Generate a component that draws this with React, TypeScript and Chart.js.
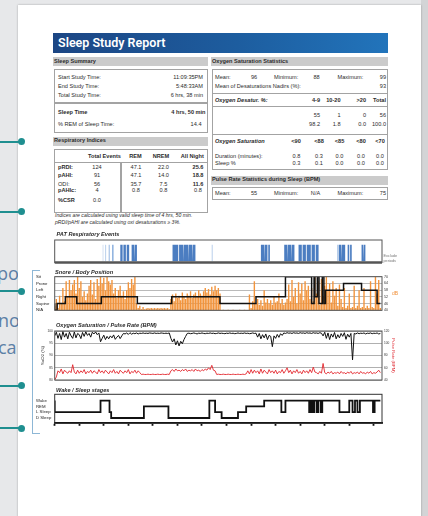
import React, { useEffect, useRef } from "react";
import { Chart, registerables } from "chart.js";

const FONT = '"Liberation Sans", Arial, sans-serif';

// ---------- time axis (minutes from study start) ----------
const studyMaxMin = 400;
const timeTicks = [0, 30, 60, 90, 120, 150, 180, 210, 240, 270, 300, 330, 360, 390];

// ---------- PAT respiratory events (minutes) ----------
const patDarkStart = [80, 84, 88, 94, 98, 144, 152, 158, 164, 169, 252, 257, 261, 280.5, 285, 290, 298, 303, 308, 314, 319, 347, 351, 358, 361, 375, 378];
const patDarkEnd = [83, 87, 91, 97, 100.5, 151, 157, 163, 168, 172, 256, 260, 263, 284, 289, 293, 302, 307, 313, 318, 322.5, 350, 355, 360, 363, 377, 380];
const patLightStart = [58.5, 62, 66, 70, 184, 192, 228, 345];
const patLightEnd = [59.3, 62.8, 67.2, 72, 184.8, 192.8, 228.8, 346];

// ---------- body position ----------
const positionLabels = ["N/A", "Supine", "Right", "Left", "Prone", "Sit"];
const positionTimes = [0, 3, 13, 27, 57, 101, 143, 202, 246, 282, 314, 317, 318, 321, 323, 327, 329, 331, 353, 375, 394, 398];
const positionValues = [1, 0, 1, 2, 1, 2, 1, 2, 1, 2, 5, 1, 5, 2, 5, 1, 5, 1, 3, 4, 3, 1];

// ---------- snore (dB), one value every 2 minutes ----------
const snoreStepMin = 2;
const snoreDb = [
  44, 50, 42, 53, 46,
  60, 48, 66, 52, 67, 58,
  63, 67, 55, 70, 60, 66,
  52, 57, 49, 55,
  62, 67, 54, 65, 50,
  68, 62, 70, 64, 69, 58, 70, 66, 63, 67,
  55, 60, 51, 58, 62, 53, 57, 50,
  58, 65, 60, 68, 63, 70,
  46, 42, 44, 41, 43, 41,
  41.5, 42, 41.5, 42, 41.5, 42, 41.5, 42, 41.5, 42, 41.5, 42, 41.5, 42, 41,
  50, 54, 48, 55, 51, 53, 49, 56, 52, 50, 55, 53, 57, 51, 54, 56, 52, 58, 55, 53, 57, 60, 56, 59, 54, 61, 57, 62, 58, 60, 55,
  40, 40.5, 40, 40, 40.5, 40, 40, 40.5, 40, 40, 40, 40.5, 40, 40, 40.5, 40, 40, 54, 42,
  48, 66, 46, 50, 45, 49, 44, 58, 47, 50, 46, 49, 45, 52, 47, 48, 55, 46, 50, 45, 47,
  50, 63, 48, 67, 52, 60, 46, 65, 55, 64, 49, 66, 58, 62, 50,
  60, 48, 70, 55, 66, 45, 68, 52, 62, 70, 58, 64, 47, 66, 53, 60, 44, 63, 50,
  43, 60, 42, 44, 55, 42, 43, 62, 42, 44, 58, 42, 43, 60, 42, 44, 42, 66, 43, 42, 70, 55, 67, 42,
];
const snoreTicksStep = 6;

// ---------- SpO2 (%) and pulse (BPM), one value every 2 minutes ----------
const oxiStepMin = 2;
const spo2Values = [
  98, 99.5, 97, 99, 96.5, 99.8, 97.5, 99, 96.8, 99.5, 98, 97, 99.6, 97.2, 99, 98.5, 96.9, 99.4, 97.8, 99.7, 98.2, 99, 97.5, 99.5, 98.8, 99.6, 98.5, 99.2, 95.6,
  97, 98.3, 96.5, 97.8, 96.8, 98, 97.2, 98.4, 96.6, 97.5, 98.2, 96.9, 98,
  99, 98.8, 99.2, 98.6, 99.3, 98.7, 99.1, 98.9, 99.2, 98.8, 99.1, 99, 99.2, 99, 99.1, 99, 99.2, 99.1, 99, 99.2, 99, 99.1, 99, 99.2, 99.1, 99, 99.1, 99, 99.2,
  97, 95.5, 96.8, 94.3, 96, 93.9, 95.8, 94.8, 96.5, 97.8,
  99, 99.1, 98.9, 99, 99.2, 99, 98.8, 99.1, 99, 99.2, 99, 98.9, 99.1, 99, 99.2, 99, 99.1, 98.9, 99, 99.2, 99, 99.1, 99, 98.9, 99.1, 99, 99.2, 99, 99.1, 98.9, 99, 99.2, 99, 99.1, 99, 99.2, 99, 99.1, 98.9, 99, 99.2, 99, 99.1,
  97.5, 99, 96.8, 98.5, 97.2, 98.8, 96.5, 98.2, 97.8, 93.6, 98, 97, 98.6, 97.4, 98.9, 98.2,
  99.2, 99, 99.3, 99.1, 99.2, 99, 99.3, 99.1, 99.2, 99, 99.3, 99.1, 99.2, 99, 99.3, 99.1, 99.2, 99, 99.3, 99.1, 99.2, 99, 99.3, 99.1,
  98, 99.5, 97, 99.2, 96.5, 98.8, 97.5, 99.4, 96.8, 98.5, 97.2, 99, 97.8, 99.3, 96.6, 98.7, 97.5, 99,
  88.2,
  99, 98.8, 99.2, 98.9, 99.1, 99, 99.2, 98.8, 99.1, 99, 99.2, 98.9, 99.1, 99, 99.2, 98.8, 99,
];
const pulseValues = [
  40, 45, 55,
  52, 58, 50, 56, 53,
  51, 55, 52, 65,
  53, 50, 56, 51, 55, 52, 57, 50, 54, 52, 56, 51, 55, 53, 50, 57, 52, 55, 51, 56, 53, 50, 55, 52, 57, 51, 54, 50, 56, 53, 51, 55, 52, 57, 50, 54, 52, 56, 51, 55, 52,
  49, 49.5, 49, 49, 49.5, 49, 49, 49.5, 49, 49, 49.5, 49, 49, 49.5, 49, 49, 49.5, 49,
  55, 57, 54, 58, 55, 56, 54, 57, 55, 58, 54, 56, 55, 57, 54, 58, 55, 56, 54, 57, 55, 58, 56, 60, 57, 64, 56, 55,
  49, 49.5, 49, 49, 49.5, 49, 49, 49.5, 49, 49, 49.5, 49, 49, 49.5, 49, 49, 49.5, 49, 50,
  55, 50, 57, 51, 56, 52, 55, 50, 58, 51, 56, 53, 50, 57, 52, 55, 51, 56, 50, 54, 52, 57, 51, 55, 60, 52, 56, 50, 55, 52, 57, 51, 54, 50, 56, 52, 55, 51, 57, 52, 61, 53,
  52, 50, 54, 51, 67, 52, 50, 53, 51, 54, 50, 52, 51, 53, 50, 54, 51, 52, 50, 53, 51, 54, 50, 52, 51, 53, 50, 54, 51, 52, 50, 53, 51, 54, 50, 52, 51, 53, 56, 52,
];
const spo2Range = [80, 100];
const spo2Step = 5;
const pulseRange = [40, 120];
const pulseStep = 20;

// ---------- sleep stages ----------
const stageLabels = ["D Sleep", "L Sleep", "REM", "Wake"];
const stageTimes = [0, 56, 67, 69, 109, 139, 189, 196, 204, 224, 234, 256, 277, 282, 311, 313, 315, 317, 320, 322, 325, 327, 348, 360, 364, 367, 370, 373, 389, 391, 393, 398];
const stageValues = [3, 1, 3, 1, 0, 2, 0, 3, 1, 0, 1, 2, 3, 1, 3, 1, 3, 1, 3, 1, 3, 1, 3, 1, 3, 1, 3, 1, 3, 1, 3, 3];

// ---------- chart plumbing ----------
const framePlugin = {
  id: "frame",
  afterDatasetsDraw(chart: any, _args: any, opts: any) {
    if (!opts || !opts.color) return;
    const { ctx, chartArea: a } = chart;
    ctx.save();
    ctx.strokeStyle = opts.color;
    ctx.lineWidth = opts.width || 1;
    ctx.strokeRect(a.left, a.top, a.right - a.left, a.bottom - a.top);
    if (opts.bottomWidth) {
      ctx.lineWidth = opts.bottomWidth;
      ctx.beginPath();
      ctx.moveTo(a.left, a.bottom);
      ctx.lineTo(a.right, a.bottom);
      ctx.stroke();
    }
    ctx.restore();
  },
};
Chart.register(...registerables, framePlugin);

const eventPoints = (starts: number[], ends: number[]) =>
  starts.flatMap((s, k) => [
    { x: s, y: 0 },
    { x: s, y: 1 },
    { x: ends[k], y: 1 },
    { x: ends[k], y: 0 },
  ]);

const baseOptions = (padding: any) => ({
  animation: false,
  responsive: false,
  devicePixelRatio: 1,
  layout: { padding, autoPadding: false },
  elements: { point: { radius: 0 }, line: { tension: 0 } },
  plugins: { legend: { display: false }, tooltip: { enabled: false } },
});

function ChartBox({ left, top, width, height, config }: any) {
  const ref = useRef<HTMLCanvasElement>(null);
  useEffect(() => {
    const chart = new Chart(ref.current as HTMLCanvasElement, config());
    return () => chart.destroy();
  }, []);
  return (
    <canvas
      ref={ref}
      width={width}
      height={height}
      style={{ position: "absolute", left, top, width, height }}
    />
  );
}

const xHidden = { type: "linear", min: 0, max: studyMaxMin, display: false, offset: false };

const patConfig = () => {
  const o: any = baseOptions({ left: 0.7, right: 2, top: 4, bottom: 5.5 });
  o.plugins.frame = { color: "#555", width: 1, bottomWidth: 2.5 };
  o.scales = { x: xHidden, y: { min: -0.072, max: 1.283, display: false } };
  return {
    type: "line",
    data: {
      datasets: [
        { data: eventPoints(patDarkStart, patDarkEnd), backgroundColor: "#4b7dc1", borderColor: "rgba(0,0,0,0)", borderWidth: 0, pointRadius: 0, fill: "origin" },
        { data: eventPoints(patLightStart, patLightEnd), backgroundColor: "#93b5e0", borderColor: "rgba(0,0,0,0)", borderWidth: 0, pointRadius: 0, fill: "origin" },
      ],
    },
    options: o,
  };
};

const snoreConfig = () => {
  const o: any = baseOptions({ left: 0, right: 0, top: 6.7, bottom: 6.7 });
  o.plugins.frame = { color: "#555", width: 1 };
  o.scales = {
    x: xHidden,
    yPos: {
      position: "left",
      min: 0,
      max: positionLabels.length - 1,
      afterBuildTicks: (s: any) => { s.ticks = positionLabels.map((_, i) => ({ value: i })); },
      ticks: { autoSkip: false, callback: (v: number) => positionLabels[v], font: { size: 4.3, family: FONT }, color: "#222", crossAlign: "far", padding: 1 },
      grid: { color: "#a8a8a8", lineWidth: 0.8, drawTicks: false },
      border: { display: false },
      afterFit: (s: any) => { s.width = 18.7; },
    },
    yDb: {
      position: "right",
      min: 40,
      max: 70,
      ticks: { autoSkip: false, stepSize: snoreTicksStep, font: { size: 3.6, family: FONT }, color: "#333", padding: 2 },
      grid: { display: false, drawTicks: false },
      border: { display: false },
      afterFit: (s: any) => { s.width = 10; },
    },
  };
  return {
    type: "line",
    data: {
      datasets: [
        { type: "line", data: positionTimes.map((t, k) => ({ x: t, y: positionValues[k] })), yAxisID: "yPos", borderColor: "#111", borderWidth: 1.5, stepped: "after", pointRadius: 0, fill: false, order: 0 },
        { type: "bar", data: snoreDb.map((v, k) => ({ x: k * snoreStepMin, y: v })), yAxisID: "yDb", backgroundColor: "#f2943c", borderWidth: 0, barPercentage: 1, categoryPercentage: 0.85, order: 1 },
      ],
    },
    options: o,
  };
};

const oxiConfig = () => {
  const o: any = baseOptions({ left: 0, right: 0, top: 5, bottom: 6 });
  o.plugins.frame = { color: "#555", width: 1 };
  o.scales = {
    x: xHidden,
    ySpo2: {
      position: "left",
      min: spo2Range[0],
      max: spo2Range[1],
      ticks: { autoSkip: false, stepSize: spo2Step, font: { size: 3.2, family: FONT }, color: "#333", padding: 2 },
      grid: { color: "#9c9c9c", lineWidth: 0.8, drawTicks: false },
      border: { display: false },
      title: { display: true, text: "SaO2 (%)", font: { size: 4.3, family: FONT }, color: "#333", padding: { top: 2, bottom: 0 } },
      afterFit: (s: any) => { s.width = 16.7; },
    },
    yPulse: {
      position: "right",
      min: pulseRange[0],
      max: pulseRange[1],
      ticks: { autoSkip: false, stepSize: pulseStep, font: { size: 3.2, family: FONT }, color: "#333", padding: 2 },
      grid: { display: false, drawTicks: false },
      border: { display: false },
      title: { display: true, text: "Pulse Rate (BPM)", font: { size: 4.3, family: FONT }, color: "#e0323a", padding: { top: 2, bottom: 0 } },
      afterFit: (s: any) => { s.width = 16; },
    },
  };
  return {
    type: "line",
    data: {
      datasets: [
        { data: spo2Values.map((v, k) => ({ x: k * oxiStepMin, y: v })), yAxisID: "ySpo2", borderColor: "#111", borderWidth: 1, pointRadius: 0 },
        { data: pulseValues.map((v, k) => ({ x: k * oxiStepMin, y: v })), yAxisID: "yPulse", borderColor: "#e3262c", borderWidth: 0.9, pointRadius: 0 },
      ],
    },
    options: o,
  };
};

const stageConfig = () => {
  const o: any = baseOptions({ left: 0, right: 2, top: 5.3, bottom: 2.7 });
  o.plugins.frame = { color: "#333", width: 1 };
  o.scales = {
    x: {
      type: "linear",
      min: 0,
      max: studyMaxMin,
      afterBuildTicks: (s: any) => { s.ticks = timeTicks.map((v) => ({ value: v })); },
      ticks: { autoSkip: false, callback: () => "", font: { size: 1 }, padding: 0 },
      grid: { drawOnChartArea: false, tickLength: 2.5, tickWidth: 1.8, color: "#111" },
      border: { display: true, color: "#111", width: 1.8 },
      afterFit: (s: any) => { s.height = 5; },
    },
    y: {
      min: -0.91,
      max: 4.09,
      afterBuildTicks: (s: any) => { s.ticks = stageLabels.map((_, i) => ({ value: i })); },
      ticks: { autoSkip: false, callback: (v: number) => stageLabels[v], font: { size: 4.3, family: FONT }, color: "#222", crossAlign: "far", padding: 1 },
      grid: { display: false, drawTicks: false },
      border: { display: false },
      afterFit: (s: any) => { s.width = 18.7; },
    },
  };
  return {
    type: "line",
    data: {
      datasets: [
        { data: stageTimes.map((t, k) => ({ x: t, y: stageValues[k] })), borderColor: "#111", borderWidth: 1.8, stepped: "after", pointRadius: 0 },
      ],
    },
    options: o,
  };
};

// ---------- page text helpers ----------
function T({ x, y, s = 5.6, b, i, a = "l", c = "#2b2b2b", children, f }: any) {
  const tx = a === "l" ? "0" : a === "r" ? "-100%" : "-50%";
  return (
    <div
      style={{
        position: "absolute",
        left: x,
        top: y,
        transform: `translate(${tx},-50%)`,
        fontSize: s,
        lineHeight: 1,
        fontWeight: b === true ? 700 : b || 400,
        fontStyle: i ? "italic" : "normal",
        color: c,
        whiteSpace: "nowrap",
        fontFamily: f || FONT,
      }}
    >
      {children}
    </div>
  );
}
const Box = ({ x, y, w, h }: any) => (
  <div style={{ position: "absolute", left: x, top: y, width: w, height: h, border: "1.5px solid #a3a3a3", boxSizing: "border-box" }} />
);
const HL = ({ x, y, w }: any) => <div style={{ position: "absolute", left: x, top: y - 0.75, width: w, height: 1.5, background: "#a3a3a3" }} />;
const VL = ({ x, y, h }: any) => <div style={{ position: "absolute", left: x - 0.75, top: y, width: 1.5, height: h, background: "#a3a3a3" }} />;
const GrayHead = ({ x, y, w, h, children }: any) => (
  <>
    <div style={{ position: "absolute", left: x, top: y, width: w, height: h, background: "#cbcbcb" }} />
    <T x={x + 1} y={y + h / 2} b>{children}</T>
  </>
);

const calloutYs = [141.7, 211.7, 291, 385.7, 428];

export default function App() {
  return (
    <div style={{ position: "fixed", left: 0, top: 0, width: 428, height: 516, overflow: "hidden", background: "#e7e8ea", fontFamily: FONT }}>
      {/* text behind the page */}
      <div style={{ position: "absolute", left: -3, top: 264, fontSize: 18, lineHeight: 1, color: "#5c80a6", fontFamily: '"Open Sans"' }}>po</div>
      <div style={{ position: "absolute", left: -2, top: 311, fontSize: 18, lineHeight: 1, color: "#5c80a6", fontFamily: '"Open Sans"' }}>no</div>
      <div style={{ position: "absolute", left: -2, top: 338, fontSize: 18, lineHeight: 1, color: "#5c80a6", fontFamily: '"Open Sans"' }}>ca</div>

      <div style={{ position: "absolute", left: 421, top: 0, width: 7, height: 516, background: "#d3d4d6" }} />
      {/* page */}
      <div style={{ position: "absolute", left: 18, top: 5, width: 403, height: 520, background: "#fff", boxShadow: "0 0 2px rgba(0,0,0,0.3)" }} />

      {/* header */}
      <div style={{ position: "absolute", left: 53, top: 33, width: 335, height: 20, background: "linear-gradient(90deg, #1c4684 0%, #1d5d9f 55%, #2274bb 100%)" }} />
      <T x={58} y={43} s={12.5} b={600} c="#fff" f='Roboto, "Open Sans", sans-serif'>Sleep Study Report</T>

      {/* Sleep summary */}
      <GrayHead x={53} y={57} w={155} h={9}>Sleep Summary</GrayHead>
      <Box x={54} y={69} w={154} h={64} />
      <HL x={54} y={103} w={154} />
      <T x={58} y={77.7}>Start Study Time:</T>
      <T x={203} y={77.7} a="r">11:09:35PM</T>
      <T x={58} y={87}>End Study Time:</T>
      <T x={203} y={87} a="r">5:48:33AM</T>
      <T x={58} y={96.3}>Total Study Time:</T>
      <T x={203} y={96.3} a="r">6 hrs, 38 min</T>
      <T x={58} y={113.3} b>Sleep Time</T>
      <T x={205.5} y={113.3} a="r" b>4 hrs, 50 min</T>
      <T x={58} y={125}>% REM of Sleep Time:</T>
      <T x={201.5} y={125} a="r">14.4</T>

      {/* Respiratory indices */}
      <GrayHead x={53} y={137} w={155} h={8.5}>Respiratory Indices</GrayHead>
      <Box x={54} y={149} w={154} h={64} />
      <HL x={54} y={162.7} w={154} />
      <VL x={121} y={162.7} h={50} />
      <T x={104.5} y={157} a="c" b>Total Events</T>
      <T x={135.5} y={157} a="c" b>REM</T>
      <T x={161} y={157} a="c" b>NREM</T>
      <T x={192.3} y={157} a="c" b>All Night</T>

      <T x={58} y={167.7} b={600}>pRDI:</T>
      <T x={97} y={167.7} a="c">124</T>
      <T x={136} y={167.7} a="c">47.1</T>
      <T x={163.5} y={167.7} a="c">22.0</T>
      <T x={198} y={167.7} a="c" b>25.6</T>

      <T x={58} y={176.3} b={600}>pAHI:</T>
      <T x={97} y={176.3} a="c">91</T>
      <T x={136} y={176.3} a="c">47.1</T>
      <T x={163.5} y={176.3} a="c">14.0</T>
      <T x={198} y={176.3} a="c" b>18.8</T>

      <T x={58} y={184.5}>ODI:</T>
      <T x={97} y={184.5} a="c">56</T>
      <T x={136} y={184.5} a="c">35.7</T>
      <T x={163.5} y={184.5} a="c">7.5</T>
      <T x={198} y={184.5} a="c" b>11.6</T>

      <T x={58} y={191} b={600}>pAHIc:</T>
      <T x={97} y={190.5} a="c">4</T>
      <T x={136} y={190.5} a="c">0.8</T>
      <T x={163.5} y={190.5} a="c">0.8</T>
      <T x={198} y={190.5} a="c">0.8</T>

      <T x={58} y={200.5} b={600}>%CSR</T>
      <T x={97} y={200.5} a="c">0.0</T>

      <T x={55} y={216} s={5.1} i>Indices are calculated using valid sleep time of 4 hrs, 50 min.</T>
      <T x={55} y={222.7} s={5.1} i>pRDI/pAHI are calculated using oxi desaturations ≥ 3%.</T>

      {/* Oxygen saturation statistics */}
      <GrayHead x={211} y={57} w={177} h={9}>Oxygen Saturation Statistics</GrayHead>
      <Box x={212} y={69} w={176} h={101} />
      <HL x={212} y={93.3} w={176} />
      <HL x={212} y={106.7} w={176} />
      <HL x={212} y={134.3} w={176} />
      <T x={215} y={77.7}>Mean:</T>
      <T x={254} y={77.7} a="c">96</T>
      <T x={274} y={77.7}>Minimum:</T>
      <T x={316.5} y={77.7} a="c">88</T>
      <T x={337.5} y={77.7}>Maximum:</T>
      <T x={386} y={77.7} a="r">99</T>
      <T x={215} y={87}>Mean of Desaturations Nadirs (%):</T>
      <T x={386} y={87} a="r">93</T>

      <T x={215} y={100.5} b i>Oxygen Desatur. %:</T>
      <T x={320} y={100.5} a="r" b>4-9</T>
      <T x={340.5} y={100.5} a="r" b>10-20</T>
      <T x={366} y={100.5} a="r" b>&gt;20</T>
      <T x={386} y={100.5} a="r" b>Total</T>
      <T x={320} y={116} a="r">55</T>
      <T x={340.5} y={116} a="r">1</T>
      <T x={366} y={116} a="r">0</T>
      <T x={386} y={116} a="r">56</T>
      <T x={320} y={124.7} a="r">98.2</T>
      <T x={340.5} y={124.7} a="r">1.8</T>
      <T x={366} y={124.7} a="r">0.0</T>
      <T x={386} y={124.7} a="r">100.0</T>

      <T x={215} y={142} b i>Oxygen Saturation</T>
      <T x={296} y={142} a="c" b>&lt;90</T>
      <T x={319} y={142} a="c" b>&lt;88</T>
      <T x={339.5} y={142} a="c" b>&lt;85</T>
      <T x={361} y={142} a="c" b>&lt;80</T>
      <T x={380} y={142} a="c" b>&lt;70</T>
      <T x={215} y={156.7}>Duration (minutes):</T>
      <T x={296.5} y={156.7} a="c">0.8</T>
      <T x={319} y={156.7} a="c">0.3</T>
      <T x={339.5} y={156.7} a="c">0.0</T>
      <T x={361} y={156.7} a="c">0.0</T>
      <T x={380} y={156.7} a="c">0.0</T>
      <T x={215} y={164.3}>Sleep %</T>
      <T x={296.5} y={164.3} a="c">0.3</T>
      <T x={319} y={164.3} a="c">0.1</T>
      <T x={339.5} y={164.3} a="c">0.0</T>
      <T x={361} y={164.3} a="c">0.0</T>
      <T x={380} y={164.3} a="c">0.0</T>

      {/* Pulse rate */}
      <GrayHead x={211} y={176} w={177} h={8.5}>Pulse Rate Statistics during Sleep (BPM)</GrayHead>
      <Box x={212} y={187} w={176} h={12.5} />
      <T x={215} y={193.5}>Mean:</T>
      <T x={254} y={193.5} a="c">55</T>
      <T x={274} y={193.5}>Minimum:</T>
      <T x={315.5} y={193.5} a="c">N/A</T>
      <T x={337.5} y={193.5}>Maximum:</T>
      <T x={386} y={193.5} a="r">75</T>

      {/* charts */}
      <ChartBox left={54} top={236} width={330} height={32} config={patConfig} />
      <ChartBox left={36} top={270} width={356} height={47} config={snoreConfig} />
      <ChartBox left={38} top={326} width={360} height={60} config={oxiConfig} />
      <ChartBox left={36} top={389} width={348} height={42} config={stageConfig} />

      <T x={56.5} y={235} b i>PAT Respiratory Events</T>
      <T x={383.5} y={257} s={3.8} c="#777">Exclude</T>
      <T x={383.5} y={262} s={3.8} c="#777">periods</T>
      <T x={55} y={273.3} b i>Snore / Body Position</T>
      <T x={392} y={293.3} s={5} c="#f0903a">dB</T>
      <T x={56} y={325.5} b i>Oxygen Saturation / Pulse Rate (BPM)</T>
      <T x={56} y={390.7} b i>Wake / Sleep stages</T>

      {/* bracket */}
      <div style={{ position: "absolute", left: 32, top: 270, width: 7, height: 162, borderLeft: "1px solid #8db7d6", borderTop: "1px solid #8db7d6", borderBottom: "1px solid #8db7d6" }} />

      {/* callouts */}
      {calloutYs.map((y) => (
        <React.Fragment key={y}>
          <div style={{ position: "absolute", left: 0, top: y - 1, width: 21, height: 2, background: "#1f8f90" }} />
          <div style={{ position: "absolute", left: 17.5, top: y - 3.5, width: 7, height: 7, borderRadius: "50%", background: "#1f8f90" }} />
        </React.Fragment>
      ))}
    </div>
  );
}
